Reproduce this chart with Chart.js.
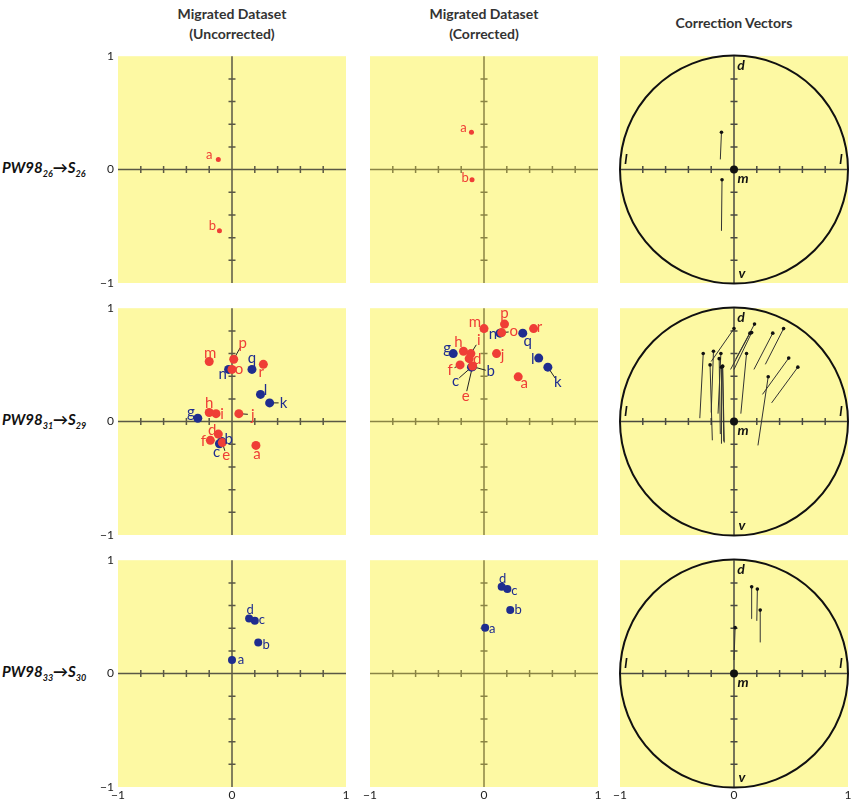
<!DOCTYPE html>
<html>
<head>
<meta charset="utf-8">
<script src="https://cdn.jsdelivr.net/npm/chart.js@4.4.1/dist/chart.umd.min.js"></script>
<style>
  body { margin: 0; background: #fff; overflow: hidden; }
  #wrap { position: relative; width: 851px; height: 799px; font-family: Lato, "Open Sans", sans-serif; color: #333; }
  .head { position: absolute; width: 228px; text-align: center; font-weight: bold; font-size: 14px; line-height: 20px; }
  .rowlab { position: absolute; left: 2px; font-style: italic; font-weight: bold; font-size: 15px; color: #111; white-space: nowrap; }
  .rowlab sub { font-size: 9px; }
  canvas { position: absolute; }
</style>
</head>
<body>
<div id="wrap">
  <div class="head" style="left:118px;top:4px">Migrated Dataset<br>(Uncorrected)</div>
  <div class="head" style="left:370px;top:4px">Migrated Dataset<br>(Corrected)</div>
  <div class="head" style="left:620px;top:13px">Correction Vectors</div>
  <div class="rowlab" style="top:158px">PW98<sub>26</sub>→S<sub>26</sub></div>
  <div class="rowlab" style="top:410px">PW98<sub>31</sub>→S<sub>29</sub></div>
  <div class="rowlab" style="top:662px">PW98<sub>33</sub>→S<sub>30</sub></div>
</div>
<script>
Chart.defaults.font.family = 'Lato, "Open Sans", sans-serif';
Chart.defaults.color = '#222';

const RED = '#ef3e36';
const BLUE = '#1f2d8f';
const PANEL_BG = '#fdf9a3';

// tick marks on the centre cross
const AXIS_TICKS = [-0.8, -0.6, -0.4, -0.2, 0.2, 0.4, 0.6, 0.8];

// --- row 1: PW98_26 -> S_26 ---
const R1_LETTERS = ['a', 'b'];
const R1_COLOR = ['r', 'r'];
const R1_UNC_X = [-0.12, -0.11];
const R1_UNC_Y = [0.09, -0.54];
const R1_COR_X = [-0.11, -0.105];
const R1_COR_Y = [0.33, -0.09];

// --- row 2: PW98_31 -> S_29 ---
const R2_LETTERS = ['a','b','c','d','e','f','g','h','i','j','k','l','m','n','o','p','q','r'];
const R2_COLOR = ['r','b','b','r','r','r','b','r','r','r','b','b','r','b','r','r','b','r'];
const R2_UNC_X = [0.21, -0.09, -0.11, -0.12, -0.085, -0.19, -0.30, -0.20, -0.14, 0.06, 0.33, 0.25, -0.20, -0.03, 0.00, 0.015, 0.175, 0.275];
const R2_UNC_Y = [-0.21, -0.175, -0.195, -0.11, -0.185, -0.165, 0.03, 0.08, 0.07, 0.07, 0.165, 0.24, 0.53, 0.46, 0.46, 0.55, 0.46, 0.505];
const R2_COR_X = [0.30, -0.10, -0.11, -0.13, -0.10, -0.21, -0.27, -0.18, -0.115, 0.11, 0.56, 0.48, 0.00, 0.14, 0.155, 0.18, 0.34, 0.435];
const R2_COR_Y = [0.395, 0.485, 0.48, 0.555, 0.49, 0.50, 0.60, 0.62, 0.60, 0.60, 0.48, 0.56, 0.82, 0.78, 0.785, 0.86, 0.78, 0.82];

// --- row 3: PW98_33 -> S_30 ---
const R3_LETTERS = ['a', 'b', 'c', 'd'];
const R3_COLOR = ['b', 'b', 'b', 'b'];
const R3_UNC_X = [0.00, 0.23, 0.20, 0.15];
const R3_UNC_Y = [0.12, 0.275, 0.465, 0.485];
const R3_COR_X = [0.01, 0.23, 0.205, 0.155];
const R3_COR_Y = [0.405, 0.56, 0.745, 0.765];

// letter placement (pixel offset from the dot, third item = leader line)
const R1_UNC_TAGS = { a: [-9, -5], b: [-7, -5] };
const R1_COR_TAGS = { a: [-8, -4], b: [-7, -2] };
const R2_UNC_TAGS = {
  a: [1, 9], b: [7, -2], c: [-3, 8], d: [-6, -4], e: [4, 13, 1], f: [-7, 1],
  g: [-7, -6], h: [0, -9], i: [6, 0], j: [14, 1, 1], k: [14, 0, 1], l: [5, -4],
  m: [1, -8], n: [-6, 5], o: [7, 0], p: [9, -16, 1], q: [0, -11], r: [-2, 8]
};
const R2_COR_TAGS = {
  a: [6, 6], b: [18, 5, 1], c: [-16, 14, 1], d: [8, 0], e: [-7, 30, 1], f: [-10, 5, 1],
  g: [-6, -5], h: [-5, -9], i: [8, -13, 1], j: [6, 2], k: [10, 15, 1], l: [-6, 1],
  m: [-9, -6], n: [-7, 1], o: [12, -1, 1], p: [0, -11], q: [5, 8], r: [6, -1]
};
const R3_UNC_TAGS = { a: [9, 0], b: [8, 2], c: [7, -1], d: [1, -9] };
const R3_COR_TAGS = { a: [7, 1], b: [8, 0], c: [7, 2], d: [1, -8] };

const COL_LEFT = [118, 370, 620];
const ROW_TOP = [55, 307, 559];
const AXIS_COLOR = ['#5a5845', '#8a8444', '#4a4a40'];

/**
 * Yellow panel, centre cross with ticks, circle for the vector panels,
 * leader lines and letter tags.
 */
const panelPlugin = {
  id: 'panel',
  beforeDatasetsDraw(chart, args, opts) {
    const { ctx, chartArea: a, scales: { x, y } } = chart;
    const x0 = x.getPixelForValue(0), y0 = y.getPixelForValue(0);
    ctx.save();
    ctx.fillStyle = PANEL_BG;
    ctx.fillRect(a.left, a.top, a.width, a.height);

    ctx.strokeStyle = opts.axisColor;
    ctx.lineWidth = 1.5;
    ctx.beginPath();
    ctx.moveTo(a.left, y0); ctx.lineTo(a.right, y0);
    ctx.moveTo(x0, a.top); ctx.lineTo(x0, a.bottom);
    AXIS_TICKS.forEach(t => {
      const px = x.getPixelForValue(t), py = y.getPixelForValue(t);
      ctx.moveTo(px, y0 - 3.5); ctx.lineTo(px, y0 + 3.5);
      ctx.moveTo(x0 - 3.5, py); ctx.lineTo(x0 + 3.5, py);
    });
    ctx.stroke();

    if (opts.vectors) {
      ctx.strokeStyle = '#111';
      ctx.lineWidth = 2;
      ctx.beginPath();
      ctx.arc(x0, y0, x.getPixelForValue(1) - x0, 0, Math.PI * 2);
      ctx.stroke();
    }

    // leader lines under the dots
    if (opts.tags) {
      ctx.strokeStyle = '#222';
      ctx.lineWidth = 1;
      chart.data.datasets.forEach((ds, i) => {
        const meta = chart.getDatasetMeta(i);
        ds.data.forEach((p, j) => {
          const t = opts.tags[p.tag];
          if (!t || !t[2]) return;
          const el = meta.data[j];
          const d = Math.hypot(t[0], t[1]);
          const k = (d - 5) / d;
          ctx.beginPath();
          ctx.moveTo(el.x, el.y);
          ctx.lineTo(el.x + t[0] * k, el.y + t[1] * k);
          ctx.stroke();
        });
      });
    }
    ctx.restore();
  },
  afterDatasetsDraw(chart, args, opts) {
    const { ctx, chartArea: a, scales: { x, y } } = chart;
    const x0 = x.getPixelForValue(0), y0 = y.getPixelForValue(0);
    ctx.save();
    ctx.textAlign = 'center';
    ctx.textBaseline = 'middle';
    if (opts.tags) {
      ctx.font = opts.tagSize + 'px Lato, "Open Sans", sans-serif';
      chart.data.datasets.forEach((ds, i) => {
        const meta = chart.getDatasetMeta(i);
        ctx.fillStyle = ds.backgroundColor;
        ds.data.forEach((p, j) => {
          const t = opts.tags[p.tag];
          if (!t) return;
          const el = meta.data[j];
          ctx.fillText(p.tag, el.x + t[0], el.y + t[1]);
        });
      });
    }
    if (opts.vectors) {
      ctx.fillStyle = '#111';
      ctx.beginPath();
      ctx.arc(x0, y0, 4, 0, Math.PI * 2);
      ctx.fill();
      ctx.font = 'italic bold 14px Lato, "Open Sans", sans-serif';
      ctx.fillText('d', x0 + 7, a.top + 9);
      ctx.fillText('v', x0 + 8, a.bottom - 10);
      ctx.fillText('l', a.left + 6, y0 - 10);
      ctx.fillText('l', a.right - 7, y0 - 10);
      ctx.fillText('m', x0 + 9, y0 + 9);
    }
    ctx.restore();
  }
};

function axisOpts(axis, showLabels) {
  return {
    type: 'linear',
    min: -1,
    max: 1,
    grid: { display: false, drawTicks: false },
    border: { display: false },
    ticks: {
      stepSize: 1,
      padding: axis === 'y' ? 4 : 1,
      font: { size: 12 },
      color: '#222',
      callback: v => showLabels ? (v === -1 ? '\u22121' : String(v)) : ''
    },
    afterFit: s => { if (axis === 'y') s.width = 22; else s.height = 16; }
  };
}

function makeCanvas(col, row) {
  const c = document.createElement('canvas');
  c.width = 256;
  c.height = 254;
  c.style.left = (COL_LEFT[col] - 22) + 'px';
  c.style.top = (ROW_TOP[row] - 10) + 'px';
  document.getElementById('wrap').appendChild(c);
  return c;
}

function makeChart(col, row, datasets, panelOpts) {
  panelOpts.axisColor = AXIS_COLOR[col];
  return new Chart(makeCanvas(col, row), {
    type: 'scatter',
    data: { datasets },
    options: {
      responsive: false,
      animation: false,
      events: [],
      layout: { padding: { top: 10, right: 6, left: 0, bottom: 0 } },
      plugins: { legend: { display: false }, tooltip: { enabled: false }, panel: panelOpts },
      scales: { x: axisOpts('x', row === 2), y: axisOpts('y', col === 0) }
    },
    plugins: [panelPlugin]
  });
}

/**
 * Scatter of the lettered points, red first, blue on top.
 */
function scatterPanel(col, row, letters, colors, xs, ys, tags, tagSize, radius) {
  const pts = { r: [], b: [] };
  letters.forEach((t, i) => pts[colors[i]].push({ x: xs[i], y: ys[i], tag: t }));
  const datasets = [['r', RED], ['b', BLUE]].map(([k, c]) => ({
    data: pts[k],
    backgroundColor: c,
    borderWidth: 0,
    pointRadius: radius,
    pointHoverRadius: radius
  }));
  return makeChart(col, row, datasets, { tags, tagSize });
}

/**
 * One line per point, from uncorrected to corrected, dot on the corrected end.
 */
function vectorPanel(row, xs0, ys0, xs1, ys1) {
  const datasets = xs0.map((_, i) => ({
    data: [{ x: xs0[i], y: ys0[i] }, { x: xs1[i], y: ys1[i] }],
    showLine: true,
    borderColor: '#333',
    borderWidth: 1,
    backgroundColor: '#111',
    pointRadius: [0, 1.8],
    pointBorderWidth: 0
  }));
  return makeChart(2, row, datasets, { vectors: true });
}

scatterPanel(0, 0, R1_LETTERS, R1_COLOR, R1_UNC_X, R1_UNC_Y, R1_UNC_TAGS, 13, 2.5);
scatterPanel(1, 0, R1_LETTERS, R1_COLOR, R1_COR_X, R1_COR_Y, R1_COR_TAGS, 13, 2.5);
vectorPanel(0, R1_UNC_X, R1_UNC_Y, R1_COR_X, R1_COR_Y);

scatterPanel(0, 1, R2_LETTERS, R2_COLOR, R2_UNC_X, R2_UNC_Y, R2_UNC_TAGS, 15, 4.5);
scatterPanel(1, 1, R2_LETTERS, R2_COLOR, R2_COR_X, R2_COR_Y, R2_COR_TAGS, 15, 4.5);
vectorPanel(1, R2_UNC_X, R2_UNC_Y, R2_COR_X, R2_COR_Y);

scatterPanel(0, 2, R3_LETTERS, R3_COLOR, R3_UNC_X, R3_UNC_Y, R3_UNC_TAGS, 13, 4);
scatterPanel(1, 2, R3_LETTERS, R3_COLOR, R3_COR_X, R3_COR_Y, R3_COR_TAGS, 13, 4);
vectorPanel(2, R3_UNC_X, R3_UNC_Y, R3_COR_X, R3_COR_Y);
</script>
</body>
</html>
